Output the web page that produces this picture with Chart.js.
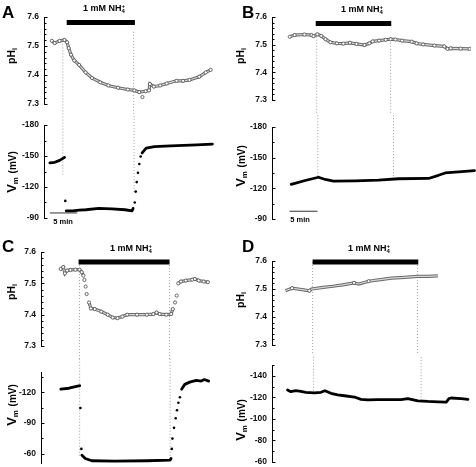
<!DOCTYPE html>
<html><head><meta charset="utf-8">
<script src="https://cdn.jsdelivr.net/npm/chart.js@4.4.0/dist/chart.umd.min.js"></script>
<style>
html,body{margin:0;padding:0;background:#fff;}
#wrap{position:relative;width:476px;height:467px;overflow:hidden;font-family:"Liberation Sans",Arial,sans-serif;color:#000;}
canvas{position:absolute;}
.t{position:absolute;white-space:nowrap;font-weight:bold;line-height:1;}
.c{transform:translate(-50%,-50%);}
.r{transform:translate(-50%,-50%) rotate(-90deg);}
.lt{font-size:17px;}
.nh{font-size:9px;}
.ss{display:inline-block;font-size:6px;line-height:5px;vertical-align:-2px;text-align:left;}
.ph{font-size:10.5px;}
.ph sub{font-size:7px;vertical-align:-2px;}
.vm{font-size:13px;}
.vm sub{font-size:8px;vertical-align:-2px;}
.vm .u{font-size:10px;font-weight:bold;}
.sm{font-size:7.5px;}
</style></head><body><div id="wrap"></div>
<script>
// ---------- DATA (time in minutes, pHi, Vm in mV) ----------
// Panel A
const aPhT = [1.43,1.96,2.86,3.75,4.23,4.52,4.95,5.54,6.43,7.63,8.80,10.30,11.79,13.57,15.36,16.55,17.45,18.63,19.23,19.41,20.13,21.30,22.50,24.29,25.48,26.66,28.45,29.64,30.54];
const aPhV = [7.518,7.510,7.518,7.521,7.513,7.493,7.470,7.450,7.435,7.409,7.390,7.375,7.364,7.356,7.350,7.347,7.341,7.344,7.347,7.369,7.360,7.364,7.371,7.380,7.380,7.383,7.394,7.409,7.418];
const aPhIsoT = [18.04];
const aPhIsoV = [7.324];
const aVmT = [1.07,1.96,2.86,3.75,3.9,4.05,5.23,6.43,7.63,10.0,12.38,14.77,16.07,16.25,16.5,17.9,18.63,20.13,23.09,27.86,30.71];
const aVmV = [-143.3,-143.9,-145.8,-148.7,null,-96.9,-96.9,-97.5,-97.9,-99.2,-98.8,-97.9,-96.9,-99.2,null,-153.0,-157.7,-159.2,-159.9,-160.8,-161.5];
const aVmDotT = [3.88,16.55,16.73,16.91,17.14,17.38,17.63];
const aVmDotV = [-106.5,-105.0,-115.5,-124.7,-133.7,-142.3,-149.6];
const aBar = [4.16,16.66];
const aDashT = [3.45,16.43];
const aDashPh = [7.516,7.549];
const aDashVm = [-132,-115];

// Panel B
const bPhT = [3.25,4.14,5.93,7.23,7.59,8.30,9.02,9.79,10.68,11.88,13.07,14.25,15.45,16.93,17.82,18.43,19.61,20.80,21.70,22.59,23.79,25.57,26.46,27.64,29.73,31.52,32.11,32.71,34.50,36.16];
const bPhV = [7.529,7.535,7.537,7.535,7.531,7.538,7.532,7.520,7.509,7.505,7.504,7.507,7.503,7.499,7.505,7.512,7.515,7.518,7.520,7.519,7.515,7.511,7.505,7.501,7.497,7.494,7.485,7.487,7.486,7.485];
const bVmT = [3.43,5.93,8.30,9.50,10.98,14.86,19.02,22.59,27.95,29.73,30.93,33.30,36.16];
const bVmV = [-123.8,-127.6,-130.8,-128.6,-126.9,-127.3,-127.9,-129.3,-129.6,-132.7,-135.0,-136.0,-137.3];
const bBar = [8.0,21.82];
const bDashT = [8.18,21.7];
const bDashPh = [7.529,7.518];
const bDashVm = [-131.8,-131.8];

// Panel C
const cPhT = [3.61,4.07,4.38,4.79,5.39,6.29,7.05,7.46,7.77,8.5,8.79,9.14,9.86,11.04,12.23,13.13,14.02,14.91,15.80,17.59,19.38,20.57,21.16,21.75,22.95,23.84,24.14,24.6,25.14,25.63,26.52,27.71,28.18,28.89,29.79,30.57];
const cPhV = [7.546,7.552,7.532,7.541,7.543,7.544,7.544,7.536,7.525,null,7.439,7.420,7.418,7.410,7.400,7.391,7.389,7.394,7.400,7.400,7.400,7.402,7.407,7.402,7.400,7.402,7.418,null,7.500,7.506,7.509,7.512,7.514,7.509,7.506,7.504];
const cPhIsoT = [7.95,8.18,8.36,24.55,24.86];
const cPhIsoV = [7.511,7.490,7.466,7.439,7.461];
const cVmT = [3.61,5.09,6.88,7.05,7.3,7.46,8.07,9.25,13.43,19.38,23.54,23.71,24.5,25.63,26.21,27.11,28.30,29.20,29.79,30.57];
const cVmV = [-123.2,-124.1,-126.3,-126.5,null,-58.4,-55.3,-53.1,-52.7,-53.1,-53.7,-55.3,null,-123.2,-127.9,-130.1,-131.7,-131.1,-132.6,-131.1];
const cVmDotT = [7.18,7.36,23.84,23.96,24.25,24.55,24.79,25.04,25.32];
const cVmDotV = [-104.8,-64.7,-64.7,-74.8,-85.3,-94.7,-102.6,-109.9,-115.3];
const cBar = [6.88,23.54];
const cDashT = [7.05,23.54];
const cDashPh = [7.568,7.568];
const cDashVm = [-58,-55];

// Panel D
const dPhT = [2.46,3.66,5.75,6.82,7.23,9.32,11.11,12.89,14.96,15.86,17.64,19.43,21.82,24.20,26.57,28.36,30.27];
const dPhV = [7.494,7.503,7.497,7.494,7.500,7.506,7.510,7.515,7.522,7.518,7.528,7.533,7.539,7.542,7.545,7.545,7.547];
const dPhMarkT = [3.66,6.82,14.96,17.64];
const dPhMarkV = [7.503,7.494,7.522,7.528];
const dVmT = [2.77,3.36,4.25,5.14,6.04,7.54,8.71,9.43,10.50,11.70,12.89,14.68,15.86,17.05,18.84,21.21,23.00,24.20,24.79,26.00,27.79,29.57,31.04,31.52,31.93,33.71,34.91];
const dVmV = [-126.8,-125.3,-126.2,-125.6,-124.7,-124.1,-124.7,-126.2,-123.8,-122.4,-121.5,-120.3,-118.2,-117.6,-117.9,-117.9,-117.9,-118.8,-118.2,-116.8,-116.2,-115.9,-115.6,-118.8,-119.4,-118.8,-118.2];
const dBar = [7.41,26.7];
const dDashT = [7.41,26.57];
const dDashPh = [7.597,7.597];
const dDashVm = [-126.2,-117.4];

// Tick labels
const phTicks = [7.3,7.4,7.5,7.6];
const vmTicksAB = [-180,-150,-120,-90];
const vmTicksC = [-120,-90,-60];
const vmTicksD = [-140,-120,-100,-80,-60];
const scaleBarMin = 5;

// ---------- DRAWING ----------
const FONT = '"Liberation Sans", Arial, sans-serif';
const wrap = document.getElementById('wrap');
function xy(t, v){ return t.map((x,i)=>({x:x, y:v[i]})); }

function inTicks(major, minor){
  return { id:'inTicks', afterDraw(chart){
    const s = chart.scales.y, ctx = chart.ctx, x = Math.round(chart.chartArea.left);
    ctx.save(); ctx.strokeStyle = '#000'; ctx.lineWidth = 1;
    const dr = (v, len) => { const y = Math.round(s.getPixelForValue(v)) + 0.5;
      ctx.beginPath(); ctx.moveTo(x, y); ctx.lineTo(x + len, y); ctx.stroke(); };
    minor.forEach(v => dr(v, 2.5)); major.forEach(v => dr(v, 3.5));
    ctx.restore();
  }};
}

function makeChart(o){
  const left = o.axisX - 40;
  const w = o.right - left, h = o.cBot - o.cTop;
  const c = document.createElement('canvas');
  c.width = w; c.height = h;
  c.style.left = left + 'px'; c.style.top = o.cTop + 'px';
  c.style.width = w + 'px'; c.style.height = h + 'px';
  wrap.appendChild(c);
  const minor = [];
  const lo = Math.min(o.yMin, o.yMax), hi = Math.max(o.yMin, o.yMax);
  for (let v = o.major[0]; v >= lo - 1e-9; v -= o.minorStep) minor.push(v);
  for (let v = o.major[0] + o.minorStep; v <= hi + 1e-9; v += o.minorStep) minor.push(v);
  new Chart(c, {
    type: 'line',
    data: { datasets: o.datasets },
    options: {
      responsive: false, animation: false, devicePixelRatio: 1, events: [],
      layout: { padding: { top: o.yTop - o.cTop, bottom: o.cBot - o.yBot, left: 0, right: 0 } },
      plugins: { legend: { display: false }, tooltip: { enabled: false } },
      elements: { line: { tension: 0 }, point: { radius: 0 } },
      scales: {
        x: { type: 'linear', display: false, min: 0, max: o.xMax },
        y: { type: 'linear', min: o.yMin, max: o.yMax, reverse: !!o.reverse,
          afterFit(s){ s.width = 40; },
          afterBuildTicks(s){ s.ticks = o.major.map(v => ({ value: v })); },
          grid: { display: false, drawTicks: false },
          border: { display: true, color: '#000', width: 1 },
          ticks: { autoSkip: false, padding: 5, color: '#111',
            font: { family: FONT, size: 8.5, weight: 'bold' },
            callback: (v) => o.fmt(v) }
        }
      }
    },
    plugins: [inTicks(o.major, minor)]
  });
}

function dashSets(ts, ys, far){
  return ts.map((t,i) => ({ data: [{x:t, y:ys[i]}, {x:t, y:far}], borderColor: '#a0a0a0',
    borderWidth: 1, borderDash: [1,2], clip: false, order: 10 }));
}
function phSets(t, v, mt, mv, bar, barLevel, dT, dY, far){
  return [
    ...dashSets(dT, dY, far),
    { data: xy(t, v), borderColor: '#6a6a6a', borderWidth: 3.2, spanGaps: false, order: 3 },
    { data: xy(t, v), borderColor: '#d8d8d8', borderWidth: 1.2, spanGaps: false, order: 2 },
    { data: xy(mt, mv), showLine: false, pointRadius: 1.6, pointBorderWidth: 0.9,
      pointBorderColor: '#5a5a5a', pointBackgroundColor: '#fff', order: 1 },
    { data: [{x:bar[0], y:barLevel}, {x:bar[1], y:barLevel}], borderColor: '#000',
      borderWidth: 5, borderCapStyle: 'butt', clip: false, order: 0 }
  ];
}
function vmSets(t, v, dt, dv, dT, dY, far, sb){
  const s = [
    ...dashSets(dT, dY, far),
    { data: xy(t, v), borderColor: '#000', borderWidth: 2.8, spanGaps: false,
      borderJoinStyle: 'round', borderCapStyle: 'round', order: 2 },
    { data: xy(dt, dv), showLine: false, pointRadius: 1.3, pointBorderWidth: 0,
      pointBackgroundColor: '#000', order: 1 }
  ];
  if (sb) s.push({ data: [{x:sb[0], y:sb[1]}, {x:sb[0] + scaleBarMin, y:sb[1]}],
    borderColor: '#333', borderWidth: 1, order: 0, clip: false });
  return s;
}
const fPh = v => v.toFixed(1);
const fVm = v => String(v);

// A
makeChart({ axisX:44, right:236, cTop:7, yTop:15, yBot:104, cBot:115, xMax:34.29,
  yMin:7.3, yMax:7.6, major:phTicks, minorStep:0.02, fmt:fPh,
  datasets: phSets(aPhT, aPhV, aPhT.concat(aPhIsoT), aPhV.concat(aPhIsoV), aBar, 7.581, aDashT, aDashPh, 7.0) });
makeChart({ axisX:44, right:236, cTop:115, yTop:125, yBot:219, cBot:228, xMax:34.29,
  yMin:-180, yMax:-90, reverse:true, major:vmTicksAB, minorStep:15, fmt:fVm,
  datasets: vmSets(aVmT, aVmV, aVmDotT, aVmDotV, aDashT, aDashVm, -300, [1.07, -94.8]) });
// B
makeChart({ axisX:272, right:476, cTop:7, yTop:15, yBot:100, cBot:113, xMax:36.43,
  yMin:7.3, yMax:7.6, major:phTicks, minorStep:0.02, fmt:fPh,
  datasets: phSets(bPhT, bPhV, bPhT, bPhV, bBar, 7.577, bDashT, bDashPh, 7.0) });
makeChart({ axisX:272, right:476, cTop:113, yTop:127, yBot:220, cBot:229, xMax:36.43,
  yMin:-180, yMax:-90, reverse:true, major:vmTicksAB, minorStep:15, fmt:fVm,
  datasets: vmSets(bVmT, bVmV, [], [], bDashT, bDashVm, -300, [3.13, -97.5]) });
// C
makeChart({ axisX:41, right:236, cTop:242, yTop:250, yBot:346, cBot:359, xMax:34.82,
  yMin:7.3, yMax:7.6, major:phTicks, minorStep:0.02, fmt:fPh,
  datasets: phSets(cPhT, cPhV, cPhT.concat(cPhIsoT), cPhV.concat(cPhIsoV), cBar, 7.568, cDashT, cDashPh, 7.0) });
makeChart({ axisX:41, right:236, cTop:359, yTop:372, yBot:465, cBot:474, xMax:34.82,
  yMin:-140, yMax:-50, reverse:true, major:vmTicksC, minorStep:15, fmt:fVm,
  datasets: vmSets(cVmT, cVmV, cVmDotT, cVmDotV, cDashT, cDashVm, -300, null) });
// D
makeChart({ axisX:272, right:476, cTop:251, yTop:259, yBot:348, cBot:355, xMax:36.34,
  yMin:7.3, yMax:7.6, major:phTicks, minorStep:0.02, fmt:fPh,
  datasets: phSets(dPhT, dPhV, dPhMarkT, dPhMarkV, dBar, 7.597, dDashT, dDashPh, 7.0) });
makeChart({ axisX:272, right:476, cTop:355, yTop:362, yBot:464, cBot:472, xMax:36.34,
  yMin:-150, yMax:-60, reverse:true, major:vmTicksD, minorStep:10, fmt:fVm,
  datasets: vmSets(dVmT, dVmV, [], [], dDashT, dDashVm, -300, null) });

// ---------- TEXT ----------
function txt(html, cls, x, y){
  const d = document.createElement('div');
  d.className = 't ' + cls; d.innerHTML = html;
  d.style.left = x + 'px'; d.style.top = y + 'px';
  wrap.appendChild(d);
}
const NH = '1 mM NH<span class="ss">+<br>4</span>';
const PH = 'pH<sub>i</sub>';
const VM = 'V<sub>m</sub> <span class="u">(mV)</span>';
txt('A', 'lt', 2, 4); txt('B', 'lt', 242, 4); txt('C', 'lt', 2, 238); txt('D', 'lt', 242, 238);
txt(NH, 'nh c', 104, 9); txt(NH, 'nh c', 362, 10); txt(NH, 'nh c', 131, 249); txt(NH, 'nh c', 369, 249);
txt(PH, 'ph r', 12, 56); txt(PH, 'ph r', 241, 56); txt(PH, 'ph r', 12, 292); txt(PH, 'ph r', 241, 300);
txt(VM, 'vm r', 12, 172); txt(VM, 'vm r', 241, 166); txt(VM, 'vm r', 12, 405); txt(VM, 'vm r', 241, 420);
txt('5 min', 'sm c', 63, 222); txt('5 min', 'sm c', 300, 220);
</script></body></html>
